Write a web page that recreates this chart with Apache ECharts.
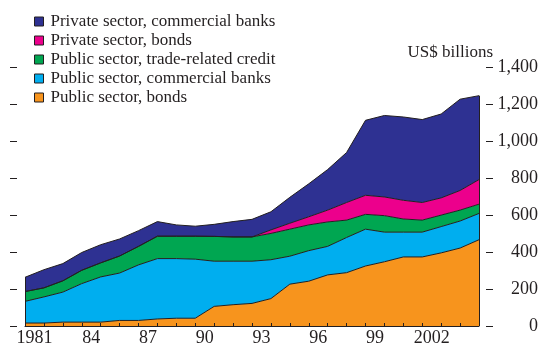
<!DOCTYPE html>
<html>
<head>
<meta charset="utf-8">
<script src="https://cdn.jsdelivr.net/npm/echarts@6/dist/echarts.min.js"></script>
<style>
html,body{margin:0;padding:0;background:#fff;}
#chart{width:542px;height:347px;}
</style>
</head>
<body>
<div id="chart"></div>
<script>
// data points at year boundaries 1981..2005
const pointYears = ['1981','1982','1983','1984','1985','1986','1987','1988','1989','1990','1991','1992','1993','1994','1995','1996','1997','1998','1999','2000','2001','2002','2003','2004','2005'];
// category bands used for axis labels
const bandYears = ['1981','1982','1983','1984','1985','1986','1987','1988','1989','1990','1991','1992','1993','1994','1995','1996','1997','1998','1999','2000','2001','2002','2003','2004'];
const yTicks = [0,200,400,600,800,1000,1200,1400];

const publicBonds      = [16,16,21,21,21,30,30,38,42,42,106,115,122,148,226,242,276,288,324,347,373,373,395,421,466];
const publicBanks      = [117,141,162,208,244,256,300,326,322,319,244,235,228,210,151,165,154,190,199,160,134,134,142,146,142];
const publicTrade      = [53,49,61,72,76,92,100,121,121,124,134,131,131,142,146,139,132,94,80,89,71,65,62,59,50];
const privateBonds     = [0,0,0,0,0,0,0,0,0,0,0,0,0,19,32,44,64,95,103,101,101,95,93,106,133];
const privateBanks     = [77,98,93,96,98,92,85,79,61,54,65,83,95,98,140,178,219,270,405,440,450,448,453,493,453];

const names = ['Private sector, commercial banks','Private sector, bonds','Public sector, trade-related credit','Public sector, commercial banks','Public sector, bonds'];
const colors = ['#2e3192','#ec008c','#00a651','#00aeef','#f7941d'];

const FONT = 'Liberation Serif';
const INK = '#231f20';

const stackOrder = [publicBonds, publicBanks, publicTrade, privateBonds, privateBanks];
const stackNames = [names[4], names[3], names[2], names[1], names[0]];
const stackColors = [colors[4], colors[3], colors[2], colors[1], colors[0]];

const totals = pointYears.map((_, i) => stackOrder.reduce((s, arr) => s + arr[i], 0));
const last = pointYears.length - 1;

const series = stackOrder.map((arr, k) => {
  const s = {
    name: stackNames[k],
    type: 'line',
    stack: 'total',
    xAxisIndex: 0,
    yAxisIndex: 0,
    data: arr,
    symbol: 'none',
    color: stackColors[k],
    itemStyle: { color: stackColors[k] },
    lineStyle: { color: INK, width: 1 },
    areaStyle: { color: stackColors[k], opacity: 1 },
    silent: true
  };
  if (k === stackOrder.length - 1) {
    s.markLine = {
      silent: true,
      symbol: ['none','none'],
      label: { show: false },
      lineStyle: { color: INK, width: 1, type: 'solid' },
      data: [
        [{ coord: [pointYears[0], 0] }, { coord: [pointYears[0], totals[0]] }],
        [{ coord: [pointYears[last], 0] }, { coord: [pointYears[last], totals[last]] }]
      ]
    };
  }
  return s;
});

const chart = echarts.init(document.getElementById('chart'), null, { renderer: 'canvas' });
chart.setOption({
  animation: false,
  backgroundColor: '#fff',
  textStyle: { fontFamily: FONT, color: INK },
  title: {
    text: 'US$ billions',
    right: 49,
    top: 44,
    padding: 0,
    textStyle: { fontFamily: FONT, fontSize: 17, fontWeight: 'normal', color: INK }
  },
  legend: {
    orient: 'vertical',
    left: 34,
    top: 13,
    padding: 0,
    itemWidth: 9,
    itemHeight: 9,
    itemGap: 2,
    icon: 'rect',
    selectedMode: false,
    textStyle: { fontFamily: FONT, fontSize: 17, color: INK, lineHeight: 17, padding: [0,0,0,2] },
    data: names.map((n, i) => ({ name: n, itemStyle: { color: colors[i], borderColor: INK, borderWidth: 1 } }))
  },
  grid: { left: 25, right: 63, top: 66.8, bottom: 17.7, containLabel: false },
  xAxis: [
    { type: 'category', data: pointYears, boundaryGap: false, show: false },
    {
      type: 'category',
      data: bandYears,
      boundaryGap: true,
      position: 'bottom',
      z: 10,
      axisLine: { show: true, lineStyle: { color: INK, width: 1 } },
      axisTick: { show: true, inside: true, length: 3, interval: 0, lineStyle: { color: INK, width: 1 } },
      axisLabel: {
        interval: 2,
        margin: 3,
        fontFamily: FONT,
        fontSize: 18,
        color: INK,
        formatter: (v, i) => (i === 0 || +v >= 2000) ? v : v.slice(2)
      },
      splitLine: { show: false }
    }
  ],
  yAxis: [
    {
      type: 'value',
      position: 'right',
      min: yTicks[0],
      max: yTicks[yTicks.length - 1],
      interval: 200,
      offset: 14,
      axisLine: { show: false },
      axisTick: { show: true, inside: true, length: 7, lineStyle: { color: INK, width: 1 } },
      axisLabel: {
        align: 'right',
        margin: 45,
        fontFamily: FONT,
        fontSize: 18,
        color: INK,
        formatter: v => v.toLocaleString('en-US')
      },
      splitLine: { show: false }
    },
    {
      type: 'value',
      position: 'left',
      min: yTicks[0],
      max: yTicks[yTicks.length - 1],
      interval: 200,
      offset: 15,
      axisLine: { show: false },
      axisTick: { show: true, inside: true, length: 7, lineStyle: { color: INK, width: 1 } },
      axisLabel: { show: false },
      splitLine: { show: false }
    }
  ],
  series: series
});
</script>
</body>
</html>
